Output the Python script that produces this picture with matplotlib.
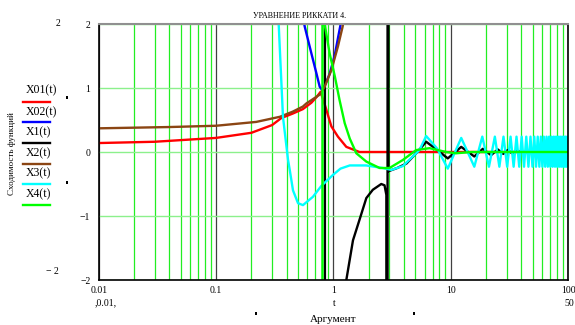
import matplotlib
matplotlib.use('Agg')
import matplotlib.pyplot as plt
from matplotlib.lines import Line2D
from matplotlib.patches import Rectangle
from matplotlib.ticker import LogLocator, NullFormatter

plt.rcParams['font.family'] = ['Liberation Serif', 'DejaVu Serif']

W, H = 575, 325

series_names = ['X01(t)', 'X02(t)', 'X1(t)', 'X2(t)', 'X3(t)', 'X4(t)']
series_colors = ['#ff0000', '#0000ff', '#000000', '#8b4513', '#00ffff', '#00ff00']

x01_t = [0.01, 0.03, 0.1, 0.2, 0.3, 0.36, 0.45, 0.55, 0.65, 0.72, 0.778, 0.855, 0.962, 1.094, 1.29, 1.67, 100]
x01_v = [0.14, 0.16, 0.22, 0.30, 0.42, 0.53, 0.60, 0.67, 0.77, 0.86, 0.94, 0.71, 0.40, 0.24, 0.08, 0.0, 0.0]

x02_t = [0.5, 0.57, 0.65, 0.717, 0.765, 0.8, 0.855, 0.93, 1.03, 1.1, 1.16, 1.3]
x02_v = [2.6, 1.96, 1.54, 1.23, 1.02, 0.97, 1.06, 1.22, 1.52, 1.80, 2.02, 2.5]

x1_t = [0.01, 0.5, 0.845, 0.85, 1.2, 1.29, 1.47, 1.67, 1.91, 2.17, 2.56, 2.73, 2.83, 2.89, 2.905, 2.95,
        3.5, 4.2, 5.2, 6.18, 7.7, 9.45, 12.3, 15.9, 18.8, 22.1, 25.2, 28.1, 30.6, 33.4, 36.1, 40, 100]
x1_v = [5, 20, 50, -50, -5, -2.0, -1.38, -1.06, -0.72, -0.59, -0.50, -0.52, -0.67, -50, 50, -0.30,
        -0.25, -0.18, 0.0, 0.16, 0.03, -0.10, 0.08, -0.07, 0.05, -0.05, 0.04, -0.03, 0.03, -0.02, 0.02, 0.0, 0.0]

x2_t = [0.01, 0.04, 0.1, 0.22, 0.35, 0.45, 0.55, 0.59, 0.65, 0.77, 0.843, 0.962, 1.094, 1.2, 1.3]
x2_v = [0.37, 0.39, 0.41, 0.47, 0.55, 0.63, 0.71, 0.76, 0.81, 0.90, 1.02, 1.28, 1.65, 1.96, 2.4]

x3_t = [0.33, 0.342, 0.372, 0.411, 0.425, 0.453, 0.50, 0.551, 0.67, 0.79, 0.99, 1.15, 1.38, 1.9, 2.64, 3.12,
        3.91, 5.42, 6.18, 7.7, 9.45, 12.3, 15.9, 18.6, 21.2, 23.8, 26.0, 28.2, 30.3, 32.4, 34.4, 36.4,
        38.4, 40.3, 42.2, 44.1, 46.0, 47.9, 49.8, 51.6, 53.4, 55.2, 57.0, 58.7, 60.5, 62.2, 63.9, 65.6,
        67.3, 69.0, 70.7, 72.4, 74.1, 75.8, 77.5, 79.1, 80.8, 82.4, 84.1, 85.7, 87.4, 89.0, 90.7, 92.3,
        94.0, 95.6, 97.3, 98.9, 100]
x3_v = [2.3, 2.0, 0.55, -0.125, -0.28, -0.60, -0.80, -0.83, -0.70, -0.53, -0.36, -0.26, -0.21, -0.21, -0.25, -0.28,
        -0.22, 0.03, 0.25, 0.05, -0.26, 0.22, -0.23, 0.24, -0.23, 0.24, -0.23, 0.24, -0.23, 0.24, -0.23, 0.24,
        -0.23, 0.24, -0.23, 0.24, -0.23, 0.24, -0.23, 0.24, -0.23, 0.24, -0.23, 0.24, -0.23, 0.24, -0.23, 0.24,
        -0.23, 0.24, -0.23, 0.24, -0.23, 0.24, -0.23, 0.24, -0.23, 0.24, -0.23, 0.24, -0.23, 0.24, -0.23, 0.24,
        -0.23, 0.24, -0.23, 0.24, -0.10]

x4_t = [0.01, 0.5, 0.805, 0.81, 0.843, 0.93, 1.03, 1.13, 1.25, 1.38, 1.57, 1.91, 2.48, 3.01, 3.91, 5.08,
        6.6, 9.16, 11.1, 15, 100]
x4_v = [-5, -20, -50, 50, 2.0, 1.54, 1.18, 0.81, 0.45, 0.21, -0.02, -0.15, -0.25, -0.25, -0.125, 0.03,
        0.06, 0.0, -0.02, 0.0, 0.0]

x_ticks = [0.01, 0.1, 1, 10, 100]
x_tick_labels = ['0.01', '0.1', '1', '10', '100']
y_ticks = [-2, -1, 0, 1, 2]
y_tick_labels = ['\u22122', '\u22121', '0', '1', '2']

title = 'УРАВНЕНИЕ РИККАТИ 4.'
y_label = 'Сходимость функций'
x_label = 'Аргумент'


def fx(px):
    return px / W


def fy(py):
    return 1 - py / H


fig = plt.figure(figsize=(W / 100, H / 100), dpi=100)
fig.patch.set_facecolor('white')
ax = fig.add_axes([fx(98.7), fy(280), (568 - 98.7) / W, 256 / H])

ax.set_xscale('log')
ax.set_xlim(0.01, 100)
ax.set_ylim(-2, 2)

ax.xaxis.set_minor_locator(LogLocator(base=10, subs=range(2, 10), numticks=20))
ax.xaxis.set_minor_formatter(NullFormatter())
ax.grid(which='minor', axis='x', color='#22ee22', lw=0.9)
ax.grid(which='major', axis='x', color='#404040', lw=0.9)
ax.set_yticks(y_ticks, labels=y_tick_labels)
ax.set_xticks(x_ticks, labels=x_tick_labels)
ax.grid(which='major', axis='y', color='#8cf08c', lw=1.0)
ax.tick_params(which='both', length=0, labelsize=7)
ax.tick_params(axis='x', pad=4)
ax.tick_params(axis='y', pad=6)
ax.set_axisbelow(True)

for side in ['left', 'bottom', 'right']:
    ax.spines[side].set_color('black')
    ax.spines[side].set_linewidth(1.2)
ax.spines['top'].set_color('#909090')
ax.spines['top'].set_linewidth(1.5)

data = [(x01_t, x01_v), (x02_t, x02_v), (x1_t, x1_v), (x2_t, x2_v), (x3_t, x3_v), (x4_t, x4_v)]
for (t, v), c in zip(data, series_colors):
    ax.plot(t, v, color=c, lw=1.7, solid_joinstyle='round')

# title and labels
fig.text(fx(300), fy(16), title, ha='center', va='center', fontsize=5.8)
fig.text(fx(12), fy(154), y_label, ha='center', va='center', rotation=90, fontsize=6.5)
fig.text(fx(333), fy(320), x_label, ha='center', va='center', fontsize=8)

# legend
label_y = [90.7, 112.7, 132.7, 153, 173.7, 194]
line_y = [101.7, 122.3, 143, 163.7, 184, 205]
for name, c, ly, lny in zip(series_names, series_colors, label_y, line_y):
    fig.text(fx(26), fy(ly), name, ha='left', va='center', fontsize=8.5)
    fig.add_artist(Line2D([fx(23), fx(50)], [fy(lny), fy(lny)], color=c, lw=1.7))

# extra Mathcad labels
fig.text(fx(57.5), fy(23.5), '2', ha='center', va='center', fontsize=7)
fig.text(fx(52), fy(272), '\u2212 2', ha='center', va='center', fontsize=7)
fig.text(fx(106), fy(303), ',0.01,', ha='center', va='center', fontsize=7)
fig.text(fx(334), fy(303), 't', ha='center', va='center', fontsize=7)
fig.text(fx(569), fy(303), '50', ha='center', va='center', fontsize=7)

for (px, py) in [(66.7, 97.3), (66.7, 182), (256, 313), (414, 313)]:
    fig.add_artist(Rectangle((fx(px - 1), fy(py + 1.5)), 2 / W, 3 / H, color='black', lw=0))

fig.savefig('out.png', dpi=100)
